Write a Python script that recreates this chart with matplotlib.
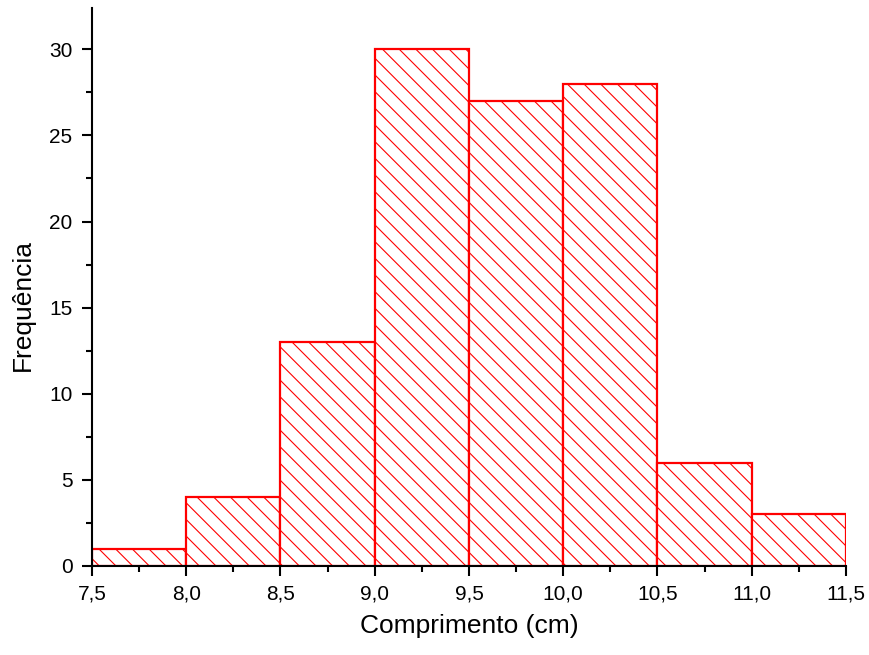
import matplotlib
matplotlib.use("Agg")
import matplotlib.pyplot as plt
from matplotlib.ticker import MultipleLocator, FuncFormatter

# bin left edges (cm) and counts
bin_edges = [7.5, 8.0, 8.5, 9.0, 9.5, 10.0, 10.5, 11.0]
bin_width = 0.5
counts = [1, 4, 13, 30, 27, 28, 6, 3]

plt.rcParams["font.family"] = ["Liberation Sans", "DejaVu Sans"]
plt.rcParams["hatch.linewidth"] = 0.8

fig = plt.figure(figsize=(8.7, 6.55), dpi=100)
ax = fig.add_axes([0.1057, 0.1359, 0.8667, 0.8519])

ax.bar(bin_edges, counts, width=bin_width, align="edge",
       facecolor="white", edgecolor="red", hatch="\\\\",
       linewidth=1.6, zorder=2)

ax.set_xlim(7.5, 11.5)
ax.set_ylim(0, 32.4)

ax.xaxis.set_major_locator(MultipleLocator(0.5))
ax.xaxis.set_minor_locator(MultipleLocator(0.25))
ax.yaxis.set_major_locator(MultipleLocator(5))
ax.yaxis.set_minor_locator(MultipleLocator(2.5))
ax.xaxis.set_major_formatter(FuncFormatter(lambda v, p: f"{v:.1f}".replace(".", ",")))

ax.tick_params(which="major", direction="out", length=7, width=1.5, labelsize=15)
ax.tick_params(axis="x", which="major", pad=6)
ax.tick_params(axis="y", which="major", pad=7)
ax.tick_params(which="minor", direction="out", length=4, width=1.5)

for side in ("top", "right"):
    ax.spines[side].set_visible(False)
for side in ("left", "bottom"):
    ax.spines[side].set_linewidth(1.5)
    ax.spines[side].set_zorder(3)

ax.set_xlabel("Comprimento (cm)", fontsize=19, labelpad=8)
ax.set_ylabel("Frequência", fontsize=19, labelpad=10)
ax.yaxis.label.set_y(0.468)

fig.savefig("out.png", dpi=100)
plt.close(fig)
